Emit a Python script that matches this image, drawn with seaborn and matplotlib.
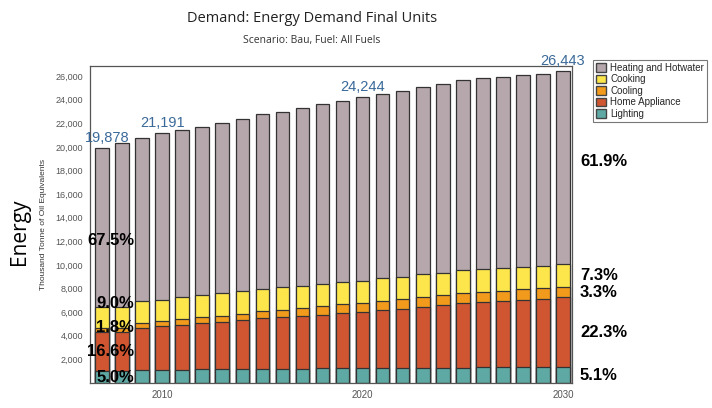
import matplotlib
matplotlib.use("Agg")
import matplotlib.pyplot as plt
from matplotlib.patches import Patch
import seaborn as sns
import pandas as pd

# Werte (Tausend Tonnen Öläquivalent)
years = list(range(2007, 2031))
lighting = [998, 1040, 1100, 1120, 1140, 1160, 1180, 1190, 1200, 1210, 1220, 1230,
            1240, 1250, 1260, 1270, 1280, 1290, 1310, 1320, 1330, 1335, 1340, 1354]
home_appliance = [3304, 3290, 3580, 3670, 3780, 3900, 4020, 4150, 4290, 4390, 4490, 4570,
                  4700, 4770, 4930, 5030, 5180, 5290, 5440, 5540, 5620, 5695, 5800, 5905]
cooling = [362, 360, 380, 430, 460, 490, 510, 540, 570, 620, 660, 700,
           730, 770, 780, 810, 820, 850, 860, 870, 880, 890, 890, 878]
cooking = [1797, 1740, 1870, 1820, 1870, 1910, 1910, 1900, 1930, 1870, 1860, 1870,
           1860, 1890, 1900, 1870, 1950, 1870, 1930, 1930, 1920, 1920, 1920, 1938]
heating = [13417, 13870, 13790, 14151, 14160, 14260, 14420, 14600, 14770, 14890, 15040, 15230,
           15320, 15564, 15630, 15750, 15840, 16030, 16120, 16150, 16210, 16230, 16260, 16368]

series_names = ["Lighting", "Home Appliance", "Cooling", "Cooking", "Heating and Hotwater"]
series_values = [lighting, home_appliance, cooling, cooking, heating]
colors = ["#5fa9a4", "#cf5630", "#f19a1c", "#fde64b", "#b5a7ab"]
label_years = [2007, 2010, 2020, 2030]


def main():
    sns.set_theme(style="white")
    plt.rcParams["font.family"] = ["Liberation Sans", "DejaVu Sans"]

    df = pd.DataFrame({"year": years})
    for name, vals in zip(series_names, series_values):
        df[name] = vals
    cum = df[series_names].cumsum(axis=1)
    df["total"] = cum[series_names[-1]]

    fig = plt.figure(figsize=(7.12, 4.08), dpi=100)
    ax = fig.add_axes([90 / 712, 1 - 383 / 408, 482 / 712, 317 / 408])

    # Gestapelte Balken: kumulierte Summen von oben nach unten überlagern
    for name, col in reversed(list(zip(series_names, colors))):
        sns.barplot(x=df["year"], y=cum[name], native_scale=True, color=col,
                    saturation=1, width=0.68, edgecolor="#333333", linewidth=0.9, ax=ax)

    ax.set_xlim(2006.4, 2030.45)
    ax.set_ylim(0, 26850)
    ax.set_yticks(range(2000, 26001, 2000))
    ax.set_yticklabels([f"{v:,}" for v in range(2000, 26001, 2000)], fontsize=6.5, color="#555555")
    ax.set_xticks([2010, 2020, 2030])
    ax.set_xticklabels(["2010", "2020", "2030"], fontsize=7, color="#555555")
    ax.tick_params(axis="both", length=3, width=0.6, color="#999999", pad=2)
    ax.set_xlabel("")
    ax.set_ylabel("Thousand Tonne of Oil Equivalents", fontsize=6, color="#333333", labelpad=6)
    for sp in ax.spines.values():
        sp.set_color("#555555")
        sp.set_linewidth(0.9)

    # Summen über ausgewählten Jahren
    for y in label_years:
        tot = df.loc[df["year"] == y, "total"].iloc[0]
        xpos = y + 0.25 if y == years[0] else y
        ax.text(xpos, tot + 250, f"{tot:,}", ha="center", va="bottom",
                fontsize=10.5, color="#3a6a99")

    # Prozentanteile erstes und letztes Jahr
    first = df.iloc[0]
    last = df.iloc[-1]
    left_shift = [0, 0, 250, 1200, -1100]
    bottom = 0
    for name, sh in zip(series_names, left_shift):
        v = first[name]
        ax.text(2008.6, bottom + v / 2 + sh, f"{v / first['total'] * 100:.1f}%",
                ha="right", va="center", fontsize=12, fontweight="bold", color="black")
        bottom += v
    bottom = 0
    for name in series_names:
        v = last[name]
        sh = 500 if name == series_names[-1] else 0
        ax.text(2030.85, bottom + v / 2 + sh, f"{v / last['total'] * 100:.1f}%",
                ha="left", va="center", fontsize=12, fontweight="bold", color="black",
                clip_on=False)
        bottom += v

    # Titel
    fig.text(312 / 712, 1 - 18 / 408, "Demand: Energy Demand Final Units", ha="center",
             va="center", fontsize=10.5, color="#222222", family=["Open Sans", "DejaVu Sans"])
    fig.text(312 / 712, 1 - 41 / 408, "Scenario: Bau, Fuel: All Fuels", ha="center",
             va="center", fontsize=7.5, color="#333333", family=["Open Sans", "DejaVu Sans"])
    fig.text(20 / 712, 1 - 232 / 408, "Energy", rotation=90, ha="center", va="center",
             fontsize=15, color="black", family=["Open Sans", "DejaVu Sans"])

    # Legende
    handles = [Patch(facecolor=c, edgecolor="#444444", label=n)
               for n, c in reversed(list(zip(series_names, colors)))]
    leg = fig.legend(handles=handles, loc="upper left", bbox_to_anchor=(593 / 712, 1 - 60 / 408),
                     fontsize=7, frameon=True, fancybox=False, borderaxespad=0,
                     handlelength=1.0, handleheight=1.0, handletextpad=0.5,
                     labelspacing=0.15, borderpad=0.3)
    leg.get_frame().set_edgecolor("#555555")
    leg.get_frame().set_linewidth(0.8)

    fig.savefig("out.png", dpi=100)


if __name__ == "__main__":
    main()
